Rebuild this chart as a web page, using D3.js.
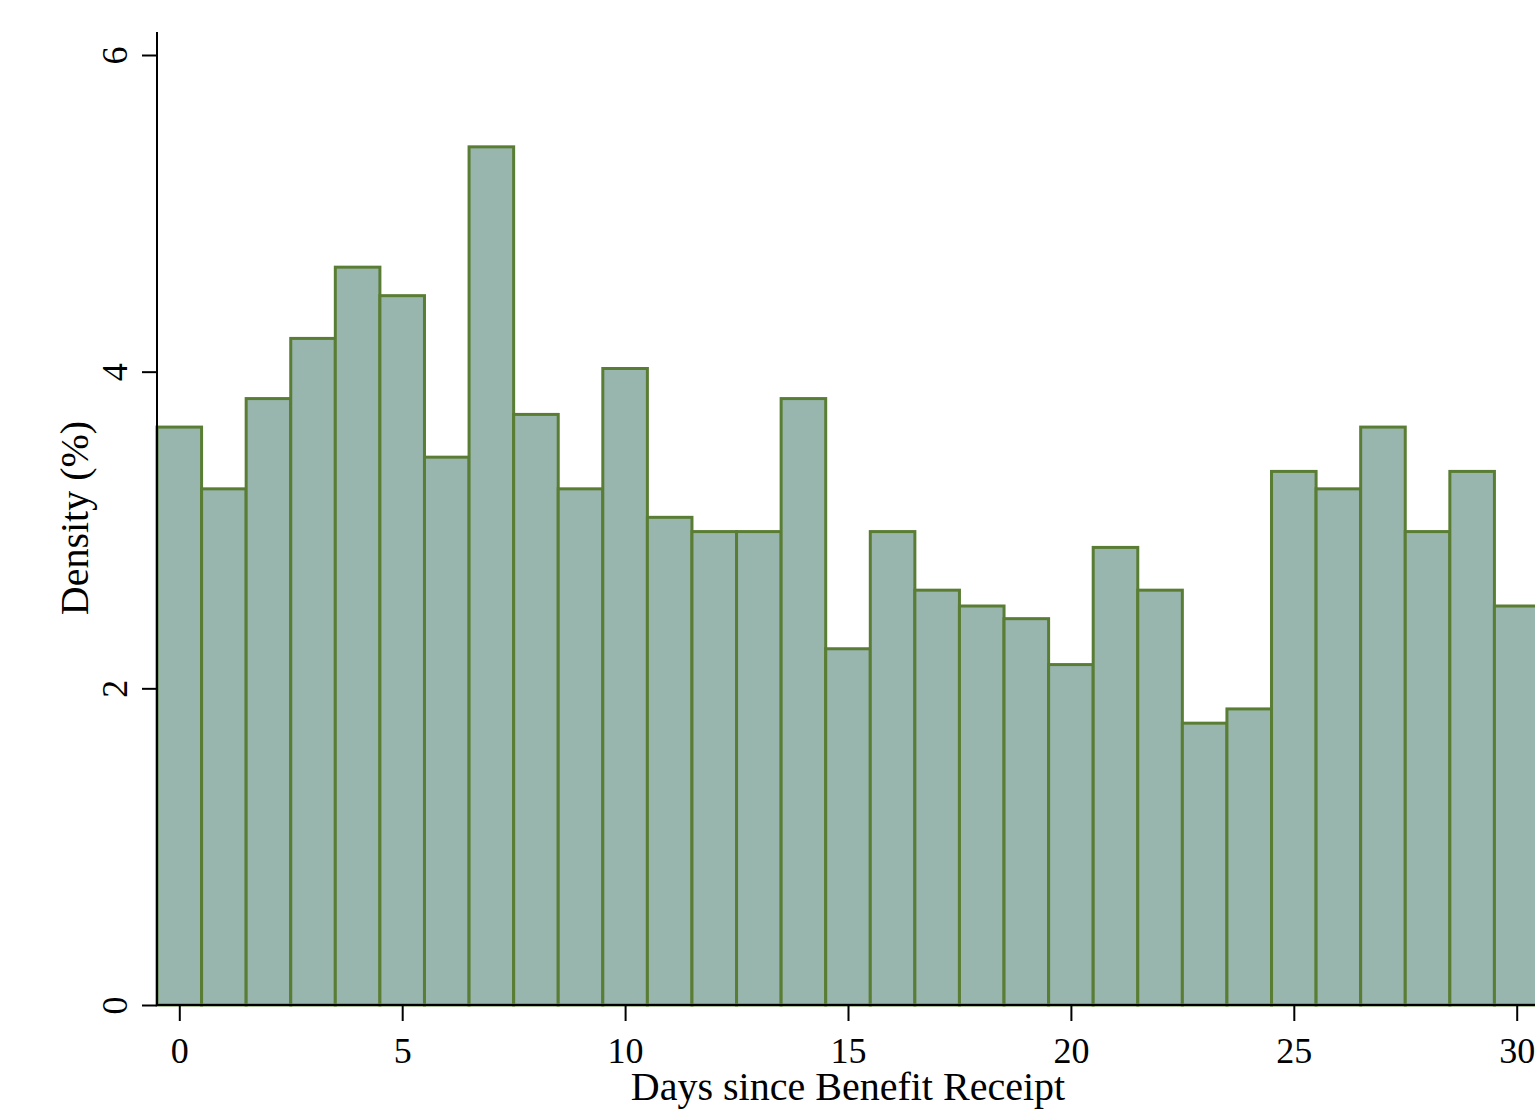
<!DOCTYPE html>
<html>
<head>
<meta charset="utf-8">
<script src="https://cdn.jsdelivr.net/npm/d3@7"></script>
<style>
  html, body { margin: 0; padding: 0; background: #fff; }
  svg { display: block; }
</style>
</head>
<body>
<div id="chart"></div>
<script>
// days since benefit receipt, density in percent
const days = d3.range(0, 31);
const density = [3.65, 3.26, 3.83, 4.21, 4.66, 4.48, 3.46, 5.42, 3.73, 3.26,
                 4.02, 3.08, 2.99, 2.99, 3.83, 2.25, 2.99, 2.62, 2.52, 2.44,
                 2.15, 2.89, 2.62, 1.78, 1.87, 3.37, 3.26, 3.65, 2.99, 3.37, 2.52];
const xTicks = [0, 5, 10, 15, 20, 25, 30];
const yTicks = [0, 2, 4, 6];

const width = 1535, height = 1110;

const svg = d3.select("#chart").append("svg")
    .attr("width", width)
    .attr("height", height);

const x = d3.scaleLinear().domain([-0.5, 30.5]).range([157, 1539]);
const y = d3.scaleLinear().domain([0, 6]).range([1005, 55]);

svg.append("g")
  .selectAll("rect")
  .data(days)
  .join("rect")
    .attr("x", d => x(d - 0.5))
    .attr("y", (d, i) => y(density[i]))
    .attr("width", d => x(d + 0.5) - x(d - 0.5))
    .attr("height", (d, i) => y(0) - y(density[i]))
    .attr("fill", "#98b5ae")
    .attr("stroke", "#5a7d34")
    .attr("stroke-width", 3);

const font = "'Liberation Serif', 'Times New Roman', serif";

// x axis
const gx = svg.append("g")
    .attr("transform", "translate(0," + y(0) + ")")
    .call(d3.axisBottom(x).tickValues(xTicks).tickFormat(d3.format("d")).tickSize(16).tickPadding(16));
gx.select(".domain").attr("stroke", "#000").attr("stroke-width", 2)
    .attr("d", "M" + x(-0.5) + ",0H" + width);
gx.selectAll(".tick line").attr("stroke", "#000").attr("stroke-width", 2);
gx.selectAll(".tick text")
    .attr("font-family", font)
    .attr("font-size", 36)
    .attr("fill", "#000");

// y axis
const gy = svg.append("g")
    .attr("transform", "translate(" + x(-0.5) + ",0)")
    .call(d3.axisLeft(y).tickValues(yTicks).tickFormat(d3.format("d")).tickSize(15));
gy.select(".domain").attr("stroke", "#000").attr("stroke-width", 2)
    .attr("d", "M0,32V" + y(0));
gy.selectAll(".tick line").attr("stroke", "#000").attr("stroke-width", 2);
gy.selectAll(".tick text")
    .attr("font-family", font)
    .attr("font-size", 36)
    .attr("fill", "#000")
    .attr("x", null)
    .attr("dy", null)
    .attr("text-anchor", "middle")
    .attr("transform", "translate(-30,0) rotate(-90)");

// titles
svg.append("text")
    .attr("x", 848)
    .attr("y", 1100)
    .attr("text-anchor", "middle")
    .attr("font-family", font)
    .attr("font-size", 40)
    .text("Days since Benefit Receipt");

svg.append("text")
    .attr("transform", "translate(88,518) rotate(-90)")
    .attr("text-anchor", "middle")
    .attr("font-family", font)
    .attr("font-size", 40)
    .text("Density (%)");
</script>
</body>
</html>
